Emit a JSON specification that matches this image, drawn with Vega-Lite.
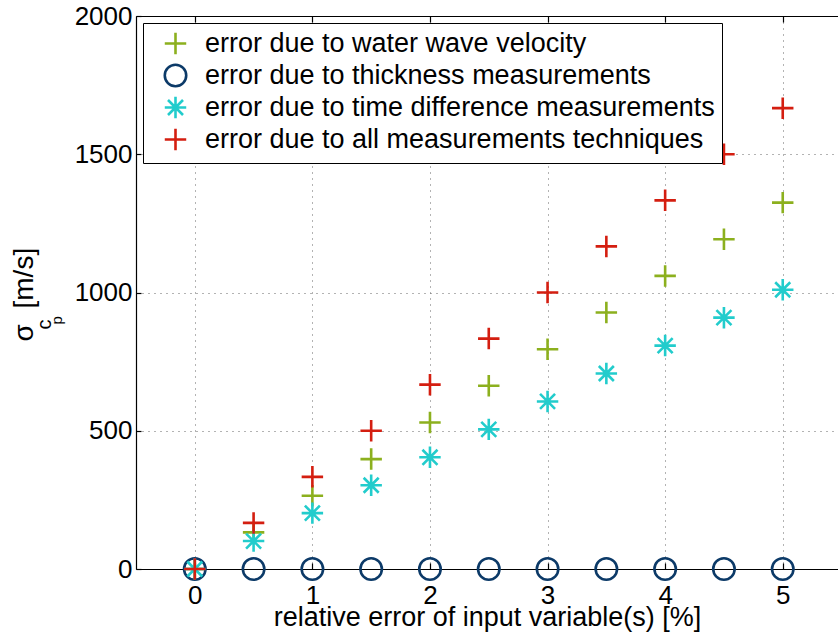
{
  "$schema": "https://vega.github.io/schema/vega-lite/v6.json",
  "width": 702,
  "height": 553,
  "autosize": {"type": "none"},
  "padding": {"left": 136, "top": 16, "right": 0, "bottom": 66},
  "background": "white",
  "config": {
    "view": {"stroke": null},
    "font": "Liberation Sans",
    "axis": {
      "titleFontWeight": "normal",
      "titleColor": "black",
      "labelColor": "black",
      "domainColor": "black",
      "tickColor": "black",
      "domainWidth": 1.2,
      "tickWidth": 1.2
    }
  },
  "data": {
    "values": [
      {"series": "error due to water wave velocity", "pct": 0, "sigma": 0},
      {"series": "error due to water wave velocity", "pct": 0.5, "sigma": 132.5},
      {"series": "error due to water wave velocity", "pct": 1, "sigma": 265},
      {"series": "error due to water wave velocity", "pct": 1.5, "sigma": 397.5},
      {"series": "error due to water wave velocity", "pct": 2, "sigma": 530},
      {"series": "error due to water wave velocity", "pct": 2.5, "sigma": 662.5},
      {"series": "error due to water wave velocity", "pct": 3, "sigma": 795},
      {"series": "error due to water wave velocity", "pct": 3.5, "sigma": 927.5},
      {"series": "error due to water wave velocity", "pct": 4, "sigma": 1060},
      {"series": "error due to water wave velocity", "pct": 4.5, "sigma": 1192.5},
      {"series": "error due to water wave velocity", "pct": 5, "sigma": 1325},
      {"series": "error due to thickness measurements", "pct": 0, "sigma": 0},
      {"series": "error due to thickness measurements", "pct": 0.5, "sigma": 0},
      {"series": "error due to thickness measurements", "pct": 1, "sigma": 0},
      {"series": "error due to thickness measurements", "pct": 1.5, "sigma": 0},
      {"series": "error due to thickness measurements", "pct": 2, "sigma": 0},
      {"series": "error due to thickness measurements", "pct": 2.5, "sigma": 0},
      {"series": "error due to thickness measurements", "pct": 3, "sigma": 0},
      {"series": "error due to thickness measurements", "pct": 3.5, "sigma": 0},
      {"series": "error due to thickness measurements", "pct": 4, "sigma": 0},
      {"series": "error due to thickness measurements", "pct": 4.5, "sigma": 0},
      {"series": "error due to thickness measurements", "pct": 5, "sigma": 0},
      {"series": "error due to time difference measurements", "pct": 0, "sigma": 0},
      {"series": "error due to time difference measurements", "pct": 0.5, "sigma": 101},
      {"series": "error due to time difference measurements", "pct": 1, "sigma": 202},
      {"series": "error due to time difference measurements", "pct": 1.5, "sigma": 303},
      {"series": "error due to time difference measurements", "pct": 2, "sigma": 404},
      {"series": "error due to time difference measurements", "pct": 2.5, "sigma": 505},
      {"series": "error due to time difference measurements", "pct": 3, "sigma": 606},
      {"series": "error due to time difference measurements", "pct": 3.5, "sigma": 707},
      {"series": "error due to time difference measurements", "pct": 4, "sigma": 808},
      {"series": "error due to time difference measurements", "pct": 4.5, "sigma": 909},
      {"series": "error due to time difference measurements", "pct": 5, "sigma": 1010},
      {"series": "error due to all measurements techniques", "pct": 0, "sigma": 0},
      {"series": "error due to all measurements techniques", "pct": 0.5, "sigma": 166.7},
      {"series": "error due to all measurements techniques", "pct": 1, "sigma": 333.3},
      {"series": "error due to all measurements techniques", "pct": 1.5, "sigma": 500},
      {"series": "error due to all measurements techniques", "pct": 2, "sigma": 666.7},
      {"series": "error due to all measurements techniques", "pct": 2.5, "sigma": 833.3},
      {"series": "error due to all measurements techniques", "pct": 3, "sigma": 1000},
      {"series": "error due to all measurements techniques", "pct": 3.5, "sigma": 1166.7},
      {"series": "error due to all measurements techniques", "pct": 4, "sigma": 1333.3},
      {"series": "error due to all measurements techniques", "pct": 4.5, "sigma": 1500},
      {"series": "error due to all measurements techniques", "pct": 5, "sigma": 1666.7}
    ]
  },
  "layer": [
    {
      "mark": {"type": "point", "filled": false, "size": 460, "strokeWidth": 2.6, "opacity": 1},
      "encoding": {
        "x": {
          "field": "pct", "type": "quantitative",
          "scale": {"domain": [-0.5, 5.47], "nice": false, "zero": false},
          "axis": {
            "orient": "bottom", "values": [0, 1, 2, 3, 4, 5],
            "labelFontSize": 26, "tickSize": -6, "labelPadding": 19,
            "grid": true, "gridDash": [1, 5], "gridColor": "#666", "gridWidth": 1,
            "title": "relative error of input variable(s) [%]",
            "titleFontSize": 27, "titleBaseline": "alphabetic", "titleY": 56
          }
        },
        "y": {
          "field": "sigma", "type": "quantitative",
          "scale": {"domain": [0, 2000], "nice": false},
          "axis": {
            "orient": "left", "values": [0, 500, 1000, 1500, 2000], "format": "d",
            "labelFontSize": 26, "tickSize": -5, "labelPadding": 9,
            "grid": true, "gridDash": [1, 5], "gridColor": "#666", "gridWidth": 1,
            "title": null
          }
        },
        "color": {
          "field": "series", "type": "nominal",
          "scale": {
            "domain": ["error due to water wave velocity", "error due to thickness measurements", "error due to time difference measurements", "error due to all measurements techniques"],
            "range": ["#8cb01e", "#0c3a68", "#22cccc", "#d41e10"]
          },
          "legend": {
            "orient": "none", "legendX": 7, "legendY": 7, "title": null,
            "labelFontSize": 27, "labelColor": "black", "labelLimit": 1000,
            "symbolSize": 460, "symbolStrokeWidth": 2.6,
            "padding": 7, "symbolOffset": 12, "labelOffset": 16, "rowPadding": -1,
            "strokeColor": "black", "fillColor": "white"
          }
        },
        "shape": {
          "field": "series", "type": "nominal",
          "scale": {
            "domain": ["error due to water wave velocity", "error due to thickness measurements", "error due to time difference measurements", "error due to all measurements techniques"],
            "range": ["M-1,0L1,0M0,-1L0,1", "circle", "M-1,0L1,0M0,-1L0,1M-0.7,-0.7L0.7,0.7M-0.7,0.7L0.7,-0.7", "M-1,0L1,0M0,-1L0,1"]
          },
          "legend": {
            "orient": "none", "legendX": 7, "legendY": 7, "title": null,
            "labelFontSize": 27, "labelColor": "black", "labelLimit": 1000,
            "symbolSize": 460, "symbolStrokeWidth": 2.6,
            "padding": 7, "symbolOffset": 12, "labelOffset": 16, "rowPadding": -1,
            "strokeColor": "black", "fillColor": "white"
          }
        }
      }
    },
    {
      "mark": {"type": "point", "opacity": 0},
      "encoding": {
        "x": {
          "field": "pct", "type": "quantitative",
          "scale": {"domain": [-0.5, 5.47], "nice": false, "zero": false},
          "axis": {"orient": "top", "values": [0, 1, 2, 3, 4, 5], "labels": false, "tickSize": -6, "grid": false, "title": null}
        },
        "y": {
          "field": "sigma", "type": "quantitative",
          "scale": {"domain": [0, 2000], "nice": false},
          "axis": {
            "orient": "left", "labels": false, "ticks": false, "domain": false, "grid": false,
            "title": "σ", "titleFontSize": 28, "titleAngle": 270, "titleAlign": "left", "titleBaseline": "alphabetic",
            "titleX": -104, "titleY": 325
          }
        }
      }
    },
    {
      "mark": {"type": "point", "opacity": 0},
      "encoding": {
        "x": {"field": "pct", "type": "quantitative", "scale": {"domain": [-0.5, 5.47], "nice": false, "zero": false}, "axis": null},
        "y": {
          "field": "sigma", "type": "quantitative",
          "scale": {"domain": [0, 2000], "nice": false},
          "axis": {
            "orient": "left", "labels": false, "ticks": false, "domain": false, "grid": false,
            "title": "c", "titleFontSize": 20, "titleAngle": 270, "titleAlign": "left", "titleBaseline": "alphabetic",
            "titleX": -86, "titleY": 313
          }
        }
      }
    },
    {
      "mark": {"type": "point", "opacity": 0},
      "encoding": {
        "x": {"field": "pct", "type": "quantitative", "scale": {"domain": [-0.5, 5.47], "nice": false, "zero": false}, "axis": null},
        "y": {
          "field": "sigma", "type": "quantitative",
          "scale": {"domain": [0, 2000], "nice": false},
          "axis": {
            "orient": "left", "labels": false, "ticks": false, "domain": false, "grid": false,
            "title": "p", "titleFontSize": 15, "titleAngle": 270, "titleAlign": "left", "titleBaseline": "alphabetic",
            "titleX": -75, "titleY": 308
          }
        }
      }
    },
    {
      "mark": {"type": "point", "opacity": 0},
      "encoding": {
        "x": {"field": "pct", "type": "quantitative", "scale": {"domain": [-0.5, 5.47], "nice": false, "zero": false}, "axis": null},
        "y": {
          "field": "sigma", "type": "quantitative",
          "scale": {"domain": [0, 2000], "nice": false},
          "axis": {
            "orient": "left", "labels": false, "ticks": false, "domain": false, "grid": false,
            "title": "[m/s]", "titleFontSize": 28, "titleAngle": 270, "titleAlign": "left", "titleBaseline": "alphabetic",
            "titleX": -104, "titleY": 292
          }
        }
      }
    }
  ],
  "resolve": {"axis": {"x": "independent", "y": "independent"}}
}
